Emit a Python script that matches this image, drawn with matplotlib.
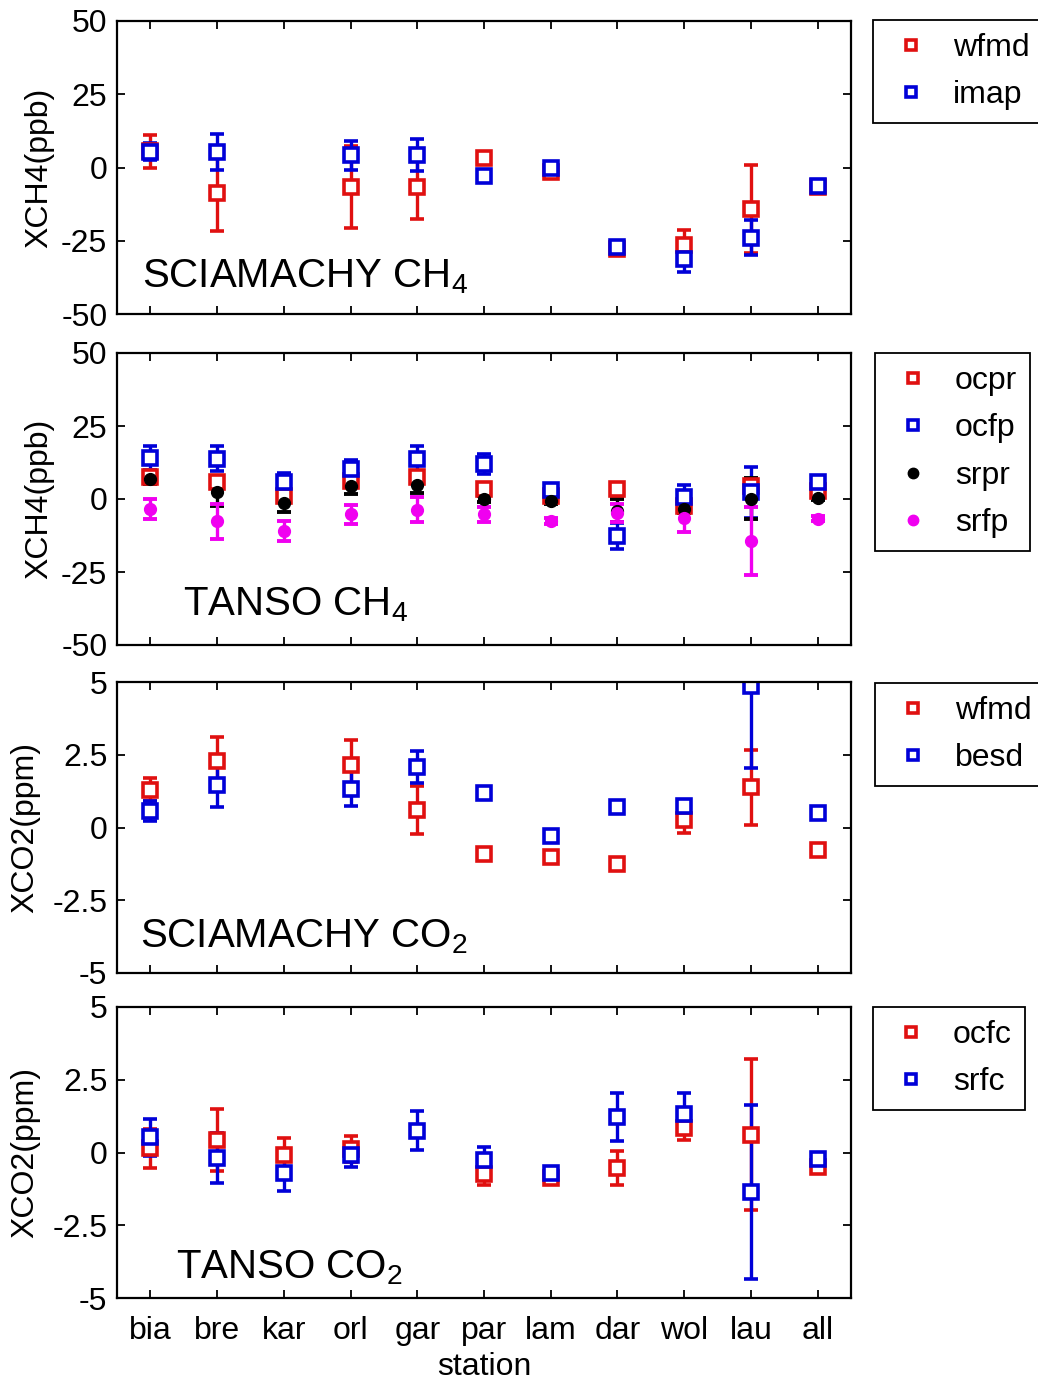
import numpy as np
import matplotlib
matplotlib.use("Agg")
import matplotlib.pyplot as plt
from matplotlib.lines import Line2D

plt.rcParams['font.family'] = ['Liberation Sans', 'DejaVu Sans']
plt.rcParams['mathtext.fontset'] = 'custom'
plt.rcParams['mathtext.rm'] = 'Liberation Sans'
plt.rcParams['mathtext.it'] = 'Liberation Sans'

nan = np.nan
stations = ['bia', 'bre', 'kar', 'orl', 'gar', 'par', 'lam', 'dar', 'wol', 'lau', 'all']

# SCIAMACHY CH4 (ppb)
wfmd_ch4 = [5.5, -8.6, nan, -6.7, -6.7, 3.1, -1.5, -27.9, -26.5, -14.3, -6.5]
wfmd_ch4_err = [5.6, 13.0, nan, 14.0, 11.0, 1.0, 1.0, 1.0, 5.3, 15.0, 0.5]
imap_ch4 = [5.4, 5.4, nan, 4.2, 4.2, -2.9, -0.3, -27.0, -31.3, -23.9, -6.4]
imap_ch4_err = [3.0, 6.2, nan, 5.0, 5.5, 1.0, 0.8, 1.0, 4.5, 6.0, 0.8]

# TANSO CH4 (ppb)
ocpr = [7.5, 5.7, 0.9, 6.0, 7.7, 3.5, 0.9, 3.5, -2.5, 4.3, 2.8]
ocpr_err = [1.5, 2.0, 1.5, 1.5, 2.0, 1.5, 1.0, 1.0, 1.5, 2.0, 1.0]
ocfp = [14.0, 13.8, 5.7, 10.3, 13.8, 11.9, 3.2, -12.7, 0.6, 2.3, 5.7]
ocfp_err = [4.0, 4.3, 3.2, 3.1, 4.2, 3.4, 1.0, 4.4, 4.3, 8.8, 1.5]
srpr = [7.0, 2.5, -1.4, 4.3, 4.9, 0.0, -0.6, -4.0, -3.3, 0.1, 0.5]
srpr_err = [2.0, 5.0, 3.0, 2.5, 3.0, 1.0, 1.0, 4.0, 1.5, 7.0, 1.0]
srfp = [-3.3, -7.6, -11.0, -5.3, -3.6, -5.3, -7.6, -4.8, -6.5, -14.4, -6.7]
srfp_err = [3.4, 6.0, 3.5, 3.1, 4.3, 2.5, 1.0, 3.0, 4.7, 11.5, 1.0]

# SCIAMACHY CO2 (ppm)
wfmd_co2 = [1.3, 2.3, nan, 2.16, 0.6, -0.9, -1.0, -1.24, 0.25, 1.38, -0.77]
wfmd_co2_err = [0.4, 0.8, nan, 0.85, 0.83, 0.05, 0.05, 0.08, 0.45, 1.3, 0.05]
besd_co2 = [0.57, 1.47, nan, 1.34, 2.09, 1.17, -0.29, 0.69, 0.75, 4.86, 0.5]
besd_co2_err = [0.33, 0.76, nan, 0.6, 0.55, 0.2, 0.08, 0.1, 0.2, 2.8, 0.05]

# TANSO CO2 (ppm)
ocfc = [0.15, 0.42, -0.1, 0.11, nan, -0.75, -0.86, -0.54, 0.84, 0.61, -0.49]
ocfc_err = [0.67, 1.07, 0.6, 0.45, nan, 0.35, 0.1, 0.58, 0.4, 2.6, 0.08]
srfc = [0.52, -0.2, -0.69, -0.09, 0.75, -0.26, -0.69, 1.22, 1.34, -1.37, -0.23]
srfc_err = [0.64, 0.86, 0.63, 0.4, 0.68, 0.45, 0.15, 0.84, 0.72, 2.99, 0.1]

RED = '#e01010'
BLUE = '#0000d8'
MAG = '#f000f0'
BLK = '#000000'

W, H = 1038, 1384
fig = plt.figure(figsize=(W / 100, H / 100), dpi=100)

x = np.arange(1, len(stations) + 1)
FS = 23


def make_axes(top, bottom, left=117, right=851):
    return fig.add_axes([left / W, 1 - bottom / H, (right - left) / W, (bottom - top) / H])


def draw(ax, y, err, color, filled=False):
    if filled:
        ax.errorbar(x, y, yerr=err, fmt='o', color=color, ms=8.5, mfc=color, mec=color,
                    elinewidth=2.4, capsize=5, capthick=2.8)
    else:
        ax.errorbar(x, y, yerr=err, fmt='s', color=color, ms=9.5, mfc='white', mec=color, mew=2.6,
                    elinewidth=2.4, capsize=5, capthick=2.8)


def style(ax, ylim, yticks, ylabels, ylabel, label_x, show_x=False):
    ax.set_xlim(0.5, 11.5)
    ax.set_ylim(*ylim)
    ax.set_yticks(yticks)
    ax.set_yticklabels(ylabels)
    ax.set_xticks(x)
    if show_x:
        ax.set_xticklabels(stations)
        ax.set_xlabel('station', fontsize=FS, labelpad=4)
    else:
        ax.set_xticklabels([])
    ax.tick_params(direction='in', top=True, right=True, length=6, width=1.3,
                   labelsize=FS, pad=7)
    ax.tick_params(axis='x', pad=13)
    for s in ax.spines.values():
        s.set_linewidth(1.6)
    ax.set_ylabel(ylabel, fontsize=FS)
    ax.yaxis.set_label_coords(label_x, 0.5)


def legend(ax, entries, x0, y0):
    handles = []
    for lab, col, filled in entries:
        if filled:
            h = Line2D([], [], ls='none', marker='o', ms=7.5, mfc=col, mec=col)
        else:
            h = Line2D([], [], ls='none', marker='s', ms=7.5, mfc='white', mec=col, mew=2.6)
        handles.append(h)
    leg = ax.legend(handles, [e[0] for e in entries], loc='upper left',
                    bbox_to_anchor=(x0 / W, 1 - y0 / H), bbox_transform=fig.transFigure,
                    borderaxespad=0, fontsize=FS, fancybox=False, framealpha=1,
                    edgecolor='black', handlelength=1.6, handletextpad=0.5,
                    labelspacing=0.55, borderpad=0.4)
    leg.get_frame().set_linewidth(1.3)


ch4_ticks = [-50, -25, 0, 25, 50]
ch4_labels = ['-50', '-25', '0', '25', '50']
co2_ticks = [-5, -2.5, 0, 2.5, 5]
co2_labels = ['-5', '-2.5', '0', '2.5', '5']

# Panel 1
ax1 = make_axes(21, 314)
draw(ax1, wfmd_ch4, wfmd_ch4_err, RED)
draw(ax1, imap_ch4, imap_ch4_err, BLUE)
style(ax1, (-50, 50), ch4_ticks, ch4_labels, 'XCH4(ppb)', -0.085)
ax1.text(0.034, 0.09, 'SCIAMACHY CH$_4$', transform=ax1.transAxes, fontsize=29, va='baseline')
legend(ax1, [('wfmd', RED, False), ('imap', BLUE, False)], 873, 20)

# Panel 2
ax2 = make_axes(353, 645)
draw(ax2, ocpr, ocpr_err, RED)
draw(ax2, ocfp, ocfp_err, BLUE)
draw(ax2, srpr, srpr_err, BLK, filled=True)
draw(ax2, srfp, srfp_err, MAG, filled=True)
style(ax2, (-50, 50), ch4_ticks, ch4_labels, 'XCH4(ppb)', -0.085)
ax2.text(0.09, 0.10, 'TANSO CH$_4$', transform=ax2.transAxes, fontsize=29, va='baseline')
legend(ax2, [('ocpr', RED, False), ('ocfp', BLUE, False), ('srpr', BLK, True),
             ('srfp', MAG, True)], 875, 353)

# Panel 3
ax3 = make_axes(682, 973)
draw(ax3, wfmd_co2, wfmd_co2_err, RED)
draw(ax3, besd_co2, besd_co2_err, BLUE)
style(ax3, (-5, 5), co2_ticks, co2_labels, 'XCO2(ppm)', -0.104)
ax3.text(0.031, 0.088, 'SCIAMACHY CO$_2$', transform=ax3.transAxes, fontsize=29, va='baseline')
legend(ax3, [('wfmd', RED, False), ('besd', BLUE, False)], 875, 683)

# Panel 4
ax4 = make_axes(1007, 1298)
draw(ax4, ocfc, ocfc_err, RED)
draw(ax4, srfc, srfc_err, BLUE)
style(ax4, (-5, 5), co2_ticks, co2_labels, 'XCO2(ppm)', -0.104, show_x=True)
ax4.text(0.08, 0.068, 'TANSO CO$_2$', transform=ax4.transAxes, fontsize=29, va='baseline')
legend(ax4, [('ocfc', RED, False), ('srfc', BLUE, False)], 873, 1007)

fig.savefig('out.png', dpi=100)
